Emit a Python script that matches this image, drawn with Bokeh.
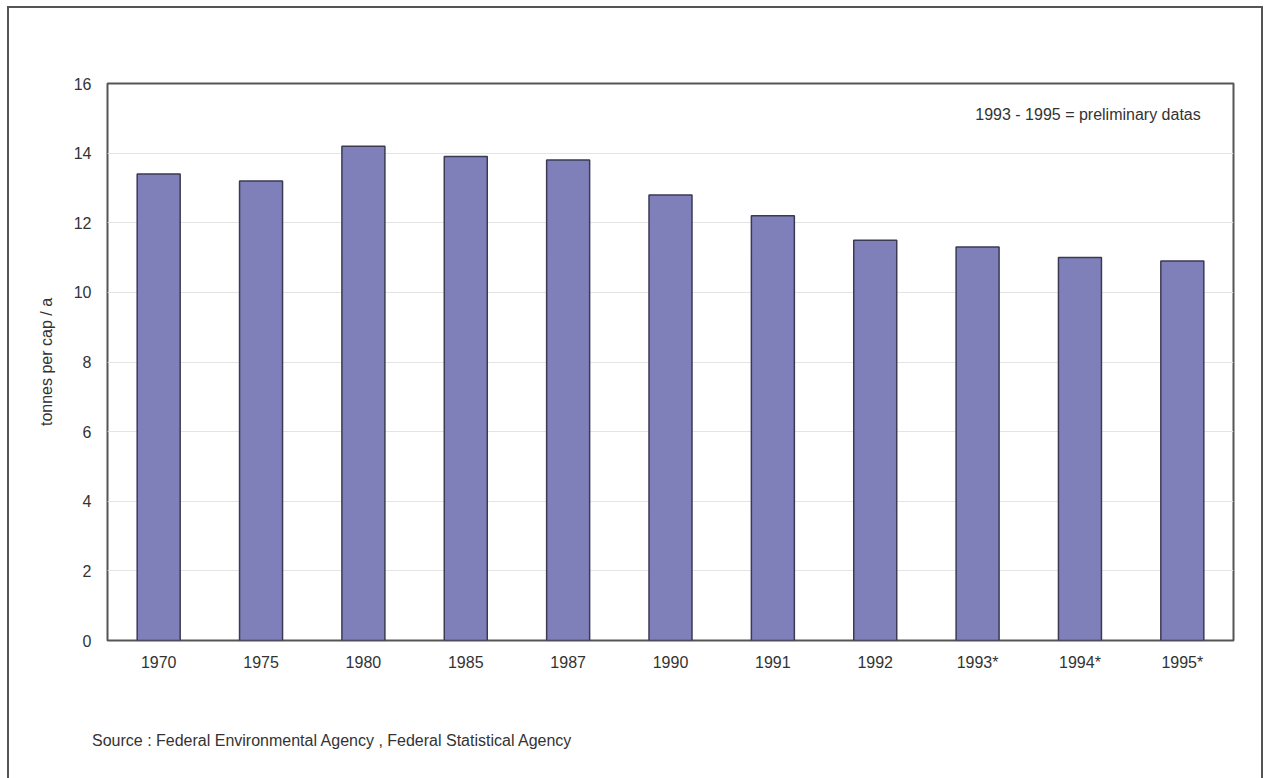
from bokeh.plotting import figure
from bokeh.models import Range1d, FactorRange, Label, ColumnDataSource, FixedTicker, Div
from bokeh.layouts import column
from bokeh.embed import file_html
from bokeh.resources import INLINE

years = ["1970", "1975", "1980", "1985", "1987", "1990", "1991", "1992", "1993*", "1994*", "1995*"]
values = [13.4, 13.2, 14.2, 13.9, 13.8, 12.8, 12.2, 11.5, 11.3, 11.0, 10.9]
y_ticks = [0, 2, 4, 6, 8, 10, 12, 14, 16]
note = "1993 - 1995 = preliminary datas"
source_text = "Source : Federal Environmental Agency , Federal Statistical Agency"

FONT = "Liberation Sans"
FS = "16px"
TXT = "#333333"
W, H = 1268, 778
PH = 720

edge = "linear-gradient(#555555,#555555)"
bg = ", ".join([
    f"{edge} 7px 6px / 2px 800px no-repeat",
    f"{edge} 7px 6px / 1256px 2px no-repeat",
    f"{edge} 1261px 6px / 2px 800px no-repeat",
    "#ffffff",
])

p = figure(width=W, height=PH, x_range=FactorRange(*years), y_range=Range1d(0, 16),
           output_backend="svg", toolbar_location=None, tools="",
           min_border_left=107, min_border_right=35, min_border_top=83, min_border_bottom=PH - 640,
           border_fill_color=None, background_fill_color="#ffffff")

src = ColumnDataSource(dict(x=years, top=values))
p.vbar(x="x", top="top", width=0.42, source=src, fill_color="#7f80b9",
       line_color="#3a3a55", line_width=1.5)

p.xgrid.grid_line_color = None
p.ygrid.grid_line_color = "#e4e4e4"
p.ygrid.ticker = FixedTicker(ticks=y_ticks)
p.yaxis.ticker = FixedTicker(ticks=y_ticks)

for ax in (p.xaxis[0], p.yaxis[0]):
    ax.axis_line_color = None
    ax.major_tick_line_color = None
    ax.minor_tick_line_color = None
    ax.major_label_text_font = FONT
    ax.major_label_text_font_size = FS
    ax.major_label_text_color = TXT
p.xaxis.major_label_standoff = 7
p.yaxis.major_label_standoff = 10
p.yaxis.axis_label = "tonnes per cap / a"
p.yaxis.axis_label_text_font = FONT
p.yaxis.axis_label_text_font_style = "normal"
p.yaxis.axis_label_text_font_size = FS
p.yaxis.axis_label_text_color = TXT
p.yaxis.axis_label_standoff = 16

p.outline_line_color = "#555555"
p.outline_line_width = 2
p.outline_line_alpha = 1

p.add_layout(Label(x=10.68, y=15.1, text=note, text_align="right",
                   text_baseline="middle", text_font=FONT, text_font_size=FS, text_color=TXT))

div = Div(text=source_text, width=W, height=H - PH,
          styles={"font-family": FONT, "font-size": FS, "color": TXT, "line-height": "18px",
                  "padding-left": "87px", "padding-top": "7px", "box-sizing": "border-box",
                  "white-space": "nowrap"})

layout = column(p, div, width=W, height=H, spacing=0, styles={"background": bg})

open("out.html", "w").write(file_html(layout, INLINE))
